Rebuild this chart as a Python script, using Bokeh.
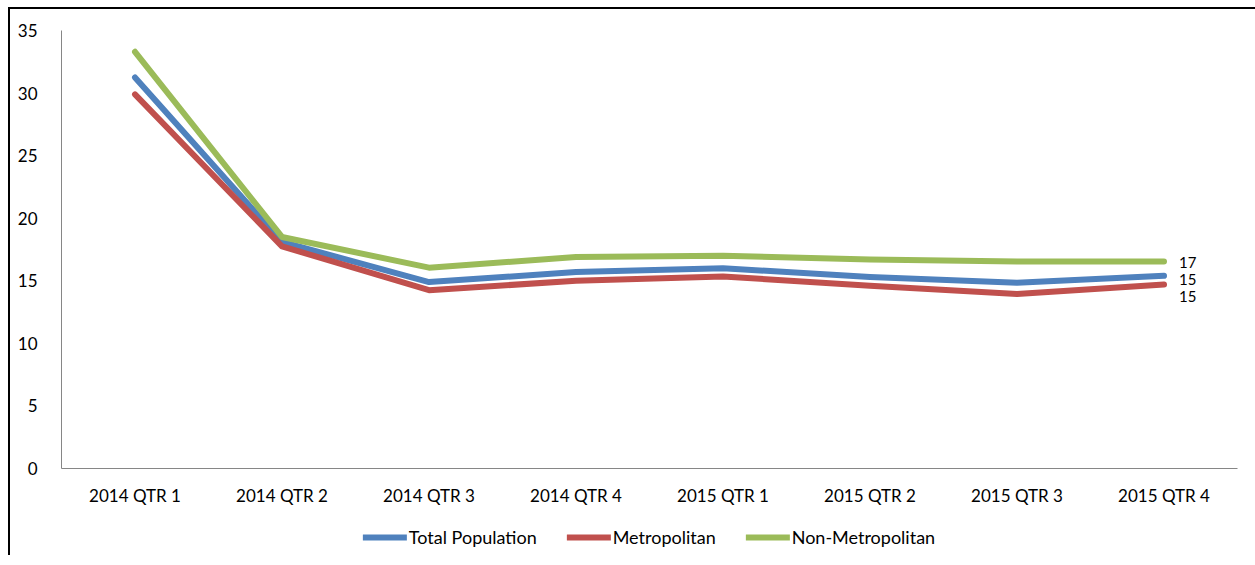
from bokeh.plotting import figure
from bokeh.layouts import column
from bokeh.models import Legend, LegendItem, Range1d, ColumnDataSource
from bokeh.core.properties import value
from bokeh.embed import file_html
from bokeh.resources import INLINE

quarters = ["2014 QTR 1", "2014 QTR 2", "2014 QTR 3", "2014 QTR 4",
            "2015 QTR 1", "2015 QTR 2", "2015 QTR 3", "2015 QTR 4"]
total_population = [31.25, 18.1, 14.9, 15.7, 16.0, 15.3, 14.85, 15.4]
metropolitan = [29.9, 17.75, 14.25, 15.0, 15.35, 14.6, 13.95, 14.7]
non_metropolitan = [33.3, 18.5, 16.05, 16.9, 17.0, 16.7, 16.55, 16.55]
series_names = ["Total Population", "Metropolitan", "Non-Metropolitan"]

FONT = "Lato"
blue, red, green = "#4F81BD", "#C0504D", "#9BBB59"
colors = [blue, red, green]
series = [total_population, metropolitan, non_metropolitan]

p = figure(x_range=quarters, y_range=Range1d(0, 35), width=1245, height=510,
           output_backend="svg", toolbar_location=None,
           min_border_left=51, min_border_right=18, min_border_top=21, min_border_bottom=51)
p.outline_line_color = None
p.xgrid.grid_line_color = None
p.ygrid.grid_line_color = None

for vals, c in zip(series, colors):
    p.line(quarters, vals, line_color=c, line_width=6, line_cap="round", line_join="round")

last = quarters[-1]
lab_src = ColumnDataSource(dict(
    x=[last, last, last],
    y=[non_metropolitan[-1], total_population[-1], metropolitan[-1]],
    t=[str(int(round(non_metropolitan[-1]))), str(int(round(total_population[-1]))), str(int(round(metropolitan[-1])))],
    yo=[1, 4, 12],
))
p.text(x="x", y="y", text="t", source=lab_src, x_offset=15, y_offset="yo",
       text_font=value(FONT), text_font_size="15px", text_color="#000000",
       text_align="left", text_baseline="middle")

for ax in (p.xaxis, p.yaxis):
    ax.axis_line_color = "#868686"
    ax.axis_line_width = 1
    ax.major_tick_line_color = None
    ax.minor_tick_line_color = None
    ax.major_label_text_font = FONT
    ax.major_label_text_color = "#000000"
p.xaxis.major_label_text_font_size = "17px"
p.yaxis.major_label_text_font_size = "17px"
p.yaxis.ticker = [0, 5, 10, 15, 20, 25, 30, 35]
p.yaxis.major_label_standoff = 18
p.xaxis.major_label_standoff = 10

# legend strip (series drawn off-view so only the legend swatches show)
q = figure(width=1245, height=36, output_backend="svg", toolbar_location=None,
           min_border_left=0, min_border_right=18, min_border_top=0, min_border_bottom=0,
           x_range=quarters, y_range=Range1d(-2, -1))
q.axis.visible = False
q.grid.visible = False
q.outline_line_color = None
items = []
for name, vals, c in zip(series_names, series, colors):
    r = q.line(quarters, vals, line_color=c, line_width=6, line_cap="round")
    items.append(LegendItem(label=name, renderers=[r]))
legend = Legend(items=items, orientation="horizontal", location="center")
legend.label_text_font = FONT
legend.label_text_font_size = "18px"
legend.label_text_color = "#000000"
legend.glyph_width = 44
legend.label_standoff = 2
legend.spacing = 30
legend.padding = 0
legend.margin = 0
legend.border_line_color = None
legend.background_fill_alpha = 0
q.add_layout(legend, "center")

layout = column(p, q, spacing=0,
                styles={"border-left": "2px solid black", "border-top": "2px solid black",
                        "margin-left": "8px", "margin-top": "7px"})

open("out.html", "w").write(file_html(layout, INLINE))
